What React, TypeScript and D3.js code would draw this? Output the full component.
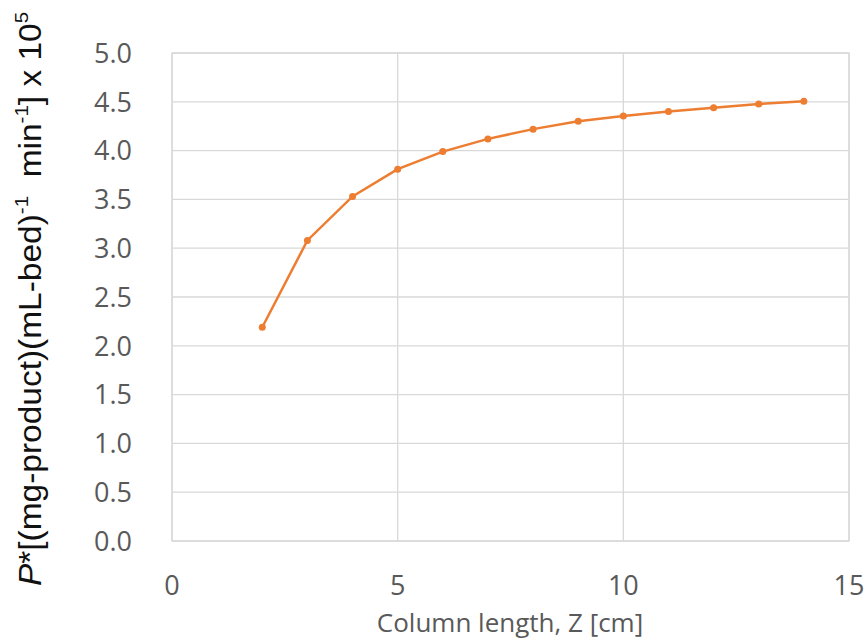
import React from "react";
import * as d3 from "d3";

const zValues = [2, 3, 4, 5, 6, 7, 8, 9, 10, 11, 12, 13, 14];
const pValues = [2.19, 3.08, 3.53, 3.81, 3.99, 4.12, 4.22, 4.30, 4.355, 4.40, 4.44, 4.477, 4.505];
const xTicks = [0, 5, 10, 15];
const yTicks = [0, 0.5, 1, 1.5, 2, 2.5, 3, 3.5, 4, 4.5, 5];

const W = 866;
const H = 643;
const left = 172;
const right = 849;
const top = 53;
const bottom = 541;

export default function App() {
  const x = d3.scaleLinear().domain([0, 15]).range([left, right]);
  const y = d3.scaleLinear().domain([0, 5]).range([bottom, top]);
  const pts = zValues.map((z, i) => [z, pValues[i]] as [number, number]);
  const line = d3.line<[number, number]>().x(d => x(d[0])).y(d => y(d[1]));
  const grid = "#d9d9d9";
  const tickFont = "'Open Sans', sans-serif";
  return (
    <svg width={W} height={H} style={{ position: "absolute", left: 0, top: 0, background: "#fff" }}>
      <rect x={0} y={0} width={W} height={H} fill="#fff" />
      {yTicks.map(t => (
        <line key={"gy" + t} x1={left} x2={right} y1={y(t)} y2={y(t)} stroke={grid} strokeWidth={1.3} />
      ))}
      {xTicks.map(t => (
        <line key={"gx" + t} x1={x(t)} x2={x(t)} y1={top} y2={bottom} stroke={grid} strokeWidth={1.3} />
      ))}
      <rect x={left} y={top} width={right - left} height={bottom - top} fill="none" stroke={grid} strokeWidth={1.3} />
      {yTicks.map(t => (
        <text key={"ty" + t} x={132} y={y(t)} dy="0.36em" textAnchor="end" fontFamily={tickFont} fontSize={27} fill="#595959">
          {t.toFixed(1)}
        </text>
      ))}
      {xTicks.map(t => (
        <text key={"tx" + t} x={x(t)} y={585} dy="0.36em" textAnchor="middle" fontFamily={tickFont} fontSize={27} fill="#595959">
          {t}
        </text>
      ))}
      <text x={510} y={623} dy="0.36em" textAnchor="middle" fontFamily={tickFont} fontSize={26} fill="#595959">
        Column length, Z [cm]
      </text>
      <text transform="translate(41,299) rotate(-90) scale(1.08,1)" textAnchor="middle" fontFamily="'Liberation Sans', Arial, sans-serif" fontSize={31} fill="#111">
        <tspan fontStyle="italic">P</tspan>
        <tspan>*[(mg-product)(mL-bed)</tspan>
        <tspan fontSize={19} dy={-13}>-1</tspan>
        <tspan dy={13} xmlSpace="preserve">{"  min"}</tspan>
        <tspan fontSize={19} dy={-13}>-1</tspan>
        <tspan dy={13}>] x 10</tspan>
        <tspan fontSize={19} dy={-13}>5</tspan>
      </text>
      <path d={line(pts) || ""} fill="none" stroke="#ED7D31" strokeWidth={2.5} />
      {pts.map((p, i) => (
        <circle key={i} cx={x(p[0])} cy={y(p[1])} r={3.5} fill="#ED7D31" />
      ))}
    </svg>
  );
}
